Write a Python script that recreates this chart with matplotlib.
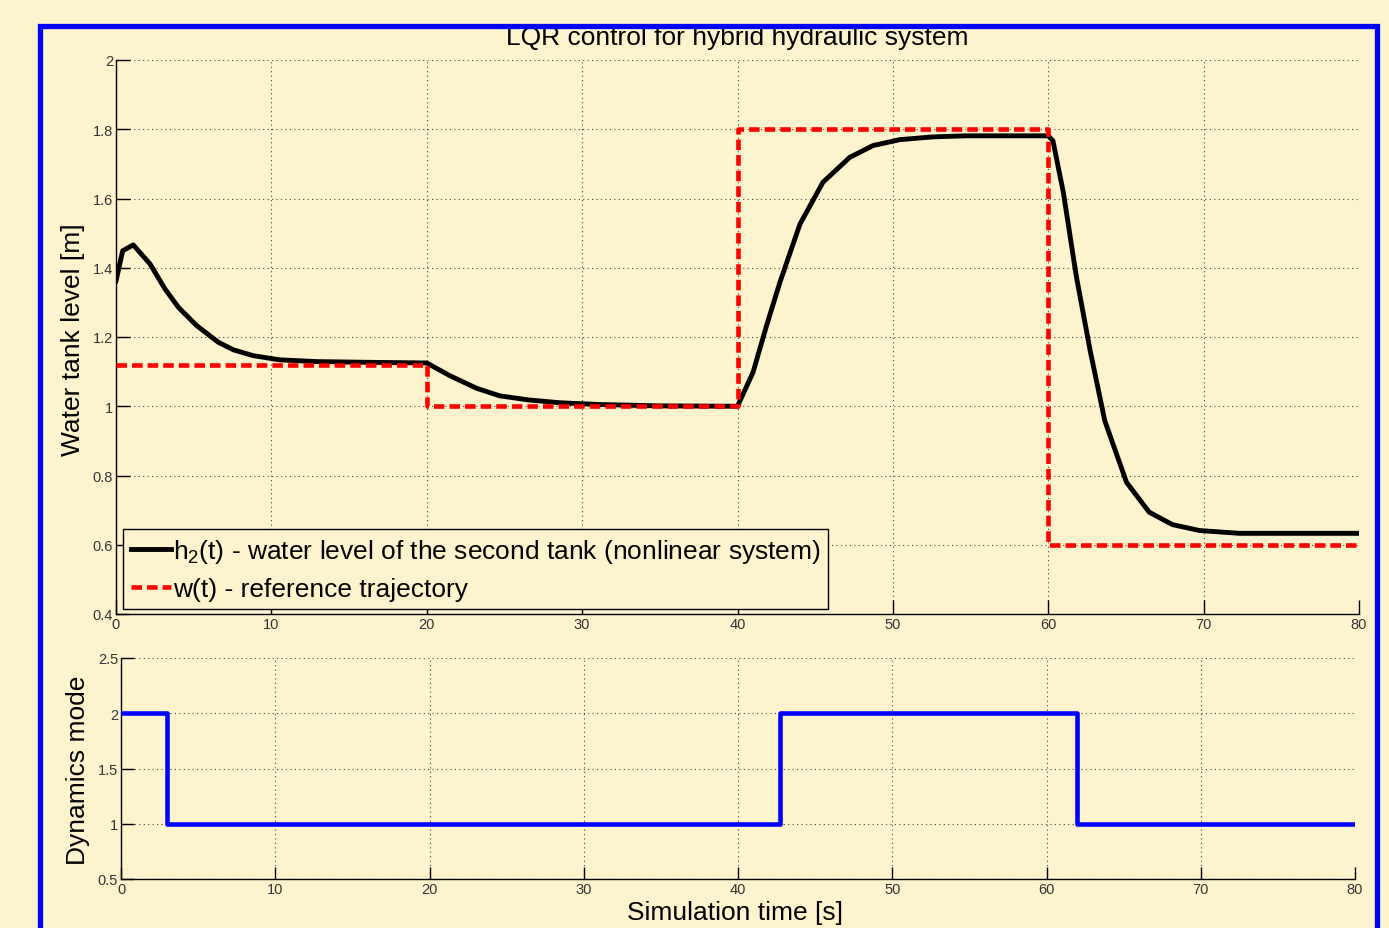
import matplotlib
matplotlib.use("Agg")
import matplotlib.pyplot as plt
from matplotlib.patches import Rectangle
from matplotlib.ticker import FuncFormatter

plt.rcParams['font.family'] = ['Liberation Sans', 'DejaVu Sans']
plt.rcParams['mathtext.default'] = 'regular'

# ---- data ----
t_h2 = [0, 0.43, 1.11, 2.19, 3.15, 4.01, 5.19, 6.58, 7.55, 8.84, 10.55, 12.9, 16.1, 20.0,
        21.5, 23.2, 24.7, 26.6, 28.6, 31.1, 35.0, 40.0,
        41.0, 41.87, 42.73, 44.02, 45.5, 47.23, 48.73, 50.45, 52.6, 54.7, 60.0,
        60.3, 60.97, 61.8, 62.7, 63.64, 65.04, 66.5, 68.0, 69.75, 72.3, 80.0]
h2 = [1.362, 1.449, 1.466, 1.411, 1.339, 1.286, 1.233, 1.185, 1.163, 1.146, 1.134, 1.129, 1.127, 1.125,
      1.088, 1.052, 1.030, 1.018, 1.010, 1.005, 1.001, 1.000,
      1.098, 1.233, 1.358, 1.526, 1.647, 1.719, 1.753, 1.770, 1.778, 1.781, 1.781,
      1.767, 1.618, 1.377, 1.160, 0.958, 0.780, 0.694, 0.658, 0.641, 0.633, 0.633]

t_ref = [0, 20, 40, 60, 80]
w_ref = [1.12, 1.0, 1.8, 0.6, 0.6]

t_mode = [0, 3, 42.7, 62, 80]
mode = [2, 1, 2, 1, 1]

xticks = [0, 10, 20, 30, 40, 50, 60, 70, 80]
yticks_top = [0.4, 0.6, 0.8, 1.0, 1.2, 1.4, 1.6, 1.8, 2.0]
yticks_bot = [0.5, 1.0, 1.5, 2.0, 2.5]

title = "LQR control for hybrid hydraulic system"
label_h2 = "h$_2$(t) - water level of the second tank (nonlinear system)"
label_w = "w(t) - reference trajectory"

# ---- style ----
BG = '#fdf4cd'
W, H = 1389, 929
fig = plt.figure(figsize=(W / 100, H / 100), dpi=100, facecolor=BG)

def box(l, t, r, b):
    return [l / W, 1 - b / H, (r - l) / W, (b - t) / H]

ax1 = fig.add_axes(box(116, 61, 1359, 615), facecolor=BG)
ax2 = fig.add_axes(box(121, 659, 1355, 880), facecolor=BG)

fmt = FuncFormatter(lambda v, p: '%g' % round(v, 3))

for ax, yt, tl in ((ax1, yticks_top, 10), (ax2, yticks_bot, 9)):
    ax.set_xlim(0, 80)
    ax.set_xticks(xticks)
    ax.set_yticks(yt)
    ax.set_ylim(yt[0], yt[-1])
    ax.xaxis.set_major_formatter(fmt)
    ax.yaxis.set_major_formatter(fmt)
    ax.tick_params(direction='in', length=tl, width=1, colors='black',
                   labelsize=10.5, labelcolor='#333333', pad=2)
    ax.spines['top'].set_visible(False)
    ax.spines['right'].set_visible(False)
    for s in ('left', 'bottom'):
        ax.spines[s].set_linewidth(1)
        ax.spines[s].set_color('black')
    ax.grid(True, linestyle=(0, (1, 3)), color='#444444', linewidth=0.8)
    ax.set_axisbelow(True)

l1, = ax1.plot(t_h2, h2, color='black', lw=3.5, solid_joinstyle='round', zorder=3,
               label=label_h2)
l2, = ax1.step(t_ref, w_ref, where='post', color='#ff0000', lw=3.3,
               linestyle=(0, (2.3, 1.1)), zorder=4, label=label_w)

leg = ax1.legend(handles=[l1, l2], loc='lower left',
                 bbox_to_anchor=((123 - 116) / 1243, (615 - 610) / 554),
                 borderaxespad=0, fontsize=19, handlelength=1.5, handletextpad=0.08,
                 labelspacing=0.45, borderpad=0.3, fancybox=False,
                 facecolor=BG, edgecolor='black', framealpha=1)
leg.get_frame().set_linewidth(1)

ax2.step(t_mode, mode, where='post', color='#0000ff', lw=3.3, zorder=3)

fig.text(737 / W, 1 - 38 / H, title, ha='center', va='center', fontsize=19)
fig.text(73 / W, 1 - 340 / H, "Water tank level [m]", ha='center', va='center',
         rotation=90, fontsize=19)
fig.text(78 / W, 1 - 770 / H, "Dynamics mode", ha='center', va='center',
         rotation=90, fontsize=19)
fig.text(735 / W, 1 - 913 / H, "Simulation time [s]", ha='center', va='center',
         fontsize=19)

fig.patches.append(Rectangle((39.5 / W, -0.05), (1376.5 - 39.5) / W, 1.05 - 26.5 / H,
                             transform=fig.transFigure, fill=False,
                             edgecolor='#0000ff', linewidth=3.8, zorder=10))

fig.savefig('out.png', dpi=100, facecolor=BG)
